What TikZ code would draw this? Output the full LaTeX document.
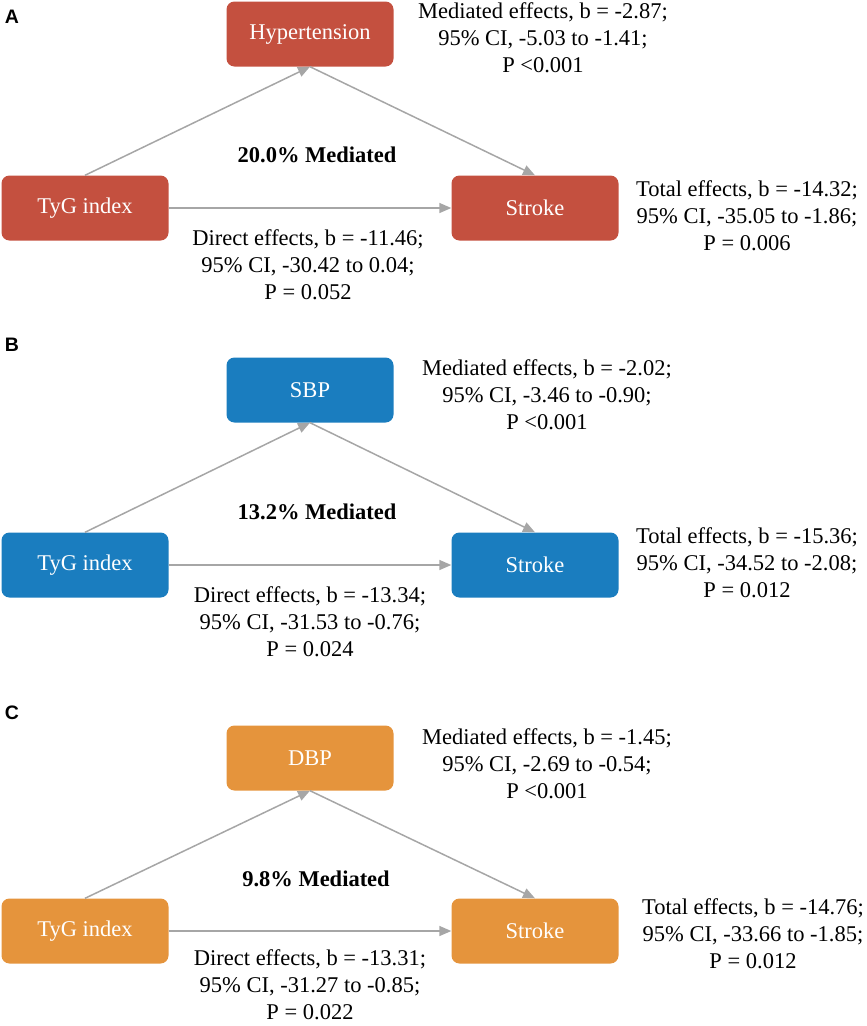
\documentclass[tikz,border=0pt]{standalone}
\usepackage{fontspec}
\setmainfont{Liberation Serif}
\newfontfamily\labelfont{Liberation Sans}
\usetikzlibrary{arrows.meta}
\definecolor{cred}{HTML}{C4503F}
\definecolor{cblue}{HTML}{1A7DBF}
\definecolor{corange}{HTML}{E5943C}
\definecolor{carrow}{HTML}{A6A6A6}
\tikzset{
 box/.style={rounded corners=8pt, minimum width=167pt, minimum height=65pt, inner sep=0pt, text=white, font=\fontsize{22.5}{27}\selectfont},
 stat/.style={align=center, font=\fontsize{22.5}{27}\selectfont, inner sep=0pt},
 pct/.style={font=\fontsize{22.5}{26}\selectfont\bfseries, inner sep=0pt},
 plabel/.style={font=\labelfont\bfseries\fontsize{19.5}{21}\selectfont, inner sep=0pt},
 conn/.style={draw=carrow, line width=1.5pt, -{Triangle[length=12pt,width=10pt]}},
}
\begin{document}
\begin{tikzpicture}[x=1pt,y=-1pt]
\useasboundingbox (0,0) rectangle (867,1026);
% Panel A
\node[plabel] (la) at (12,17) {A};
\node[box, fill=cred] (hA) at (310,34) {Hypertension};
\node[box, fill=cred] (tA) at (85,208) {TyG index};
\node[box, fill=cred] (sA) at (535,208) {Stroke};
\draw[conn] (tA.north) -- (hA.south);
\draw[conn] (hA.south) -- (sA.north);
\draw[conn] (tA.east) -- (sA.west);
\node[stat] (mA) at (543,38) {Mediated effects, b = -2.87;\\95\% CI, -5.03 to -1.41;\\P <0.001};
\node[pct] (pA) at (317,155) {20.0\% Mediated};
\node[stat] (totA) at (747,216) {Total effects, b = -14.32;\\95\% CI, -35.05 to -1.86;\\P = 0.006};
\node[stat] (dA) at (308,265) {Direct effects, b = -11.46;\\95\% CI, -30.42 to 0.04;\\P = 0.052};
% Panel B
\node[plabel] (lb) at (12,345) {B};
\node[box, fill=cblue] (hB) at (310,390) {SBP};
\node[box, fill=cblue] (tB) at (85,565) {TyG index};
\node[box, fill=cblue] (sB) at (535,565) {Stroke};
\draw[conn] (tB.north) -- (hB.south);
\draw[conn] (hB.south) -- (sB.north);
\draw[conn] (tB.east) -- (sB.west);
\node[stat] (mB) at (547,395) {Mediated effects, b = -2.02;\\95\% CI, -3.46 to -0.90;\\P <0.001};
\node[pct] (pB) at (317,512) {13.2\% Mediated};
\node[stat] (totB) at (747,563) {Total effects, b = -15.36;\\95\% CI, -34.52 to -2.08;\\P = 0.012};
\node[stat] (dB) at (310,622) {Direct effects, b = -13.34;\\95\% CI, -31.53 to -0.76;\\P = 0.024};
% Panel C
\node[plabel] (lc) at (12,713) {C};
\node[box, fill=corange] (hC) at (310,758) {DBP};
\node[box, fill=corange] (tC) at (85,931) {TyG index};
\node[box, fill=corange] (sC) at (535,931) {Stroke};
\draw[conn] (tC.north) -- (hC.south);
\draw[conn] (hC.south) -- (sC.north);
\draw[conn] (tC.east) -- (sC.west);
\node[stat] (mC) at (547,764) {Mediated effects, b = -1.45;\\95\% CI, -2.69 to -0.54;\\P <0.001};
\node[pct] (pC) at (316,879) {9.8\% Mediated};
\node[stat] (totC) at (753,934) {Total effects, b = -14.76;\\95\% CI, -33.66 to -1.85;\\P = 0.012};
\node[stat] (dC) at (310,985) {Direct effects, b = -13.31;\\95\% CI, -31.27 to -0.85;\\P = 0.022};
\end{tikzpicture}
\end{document}
